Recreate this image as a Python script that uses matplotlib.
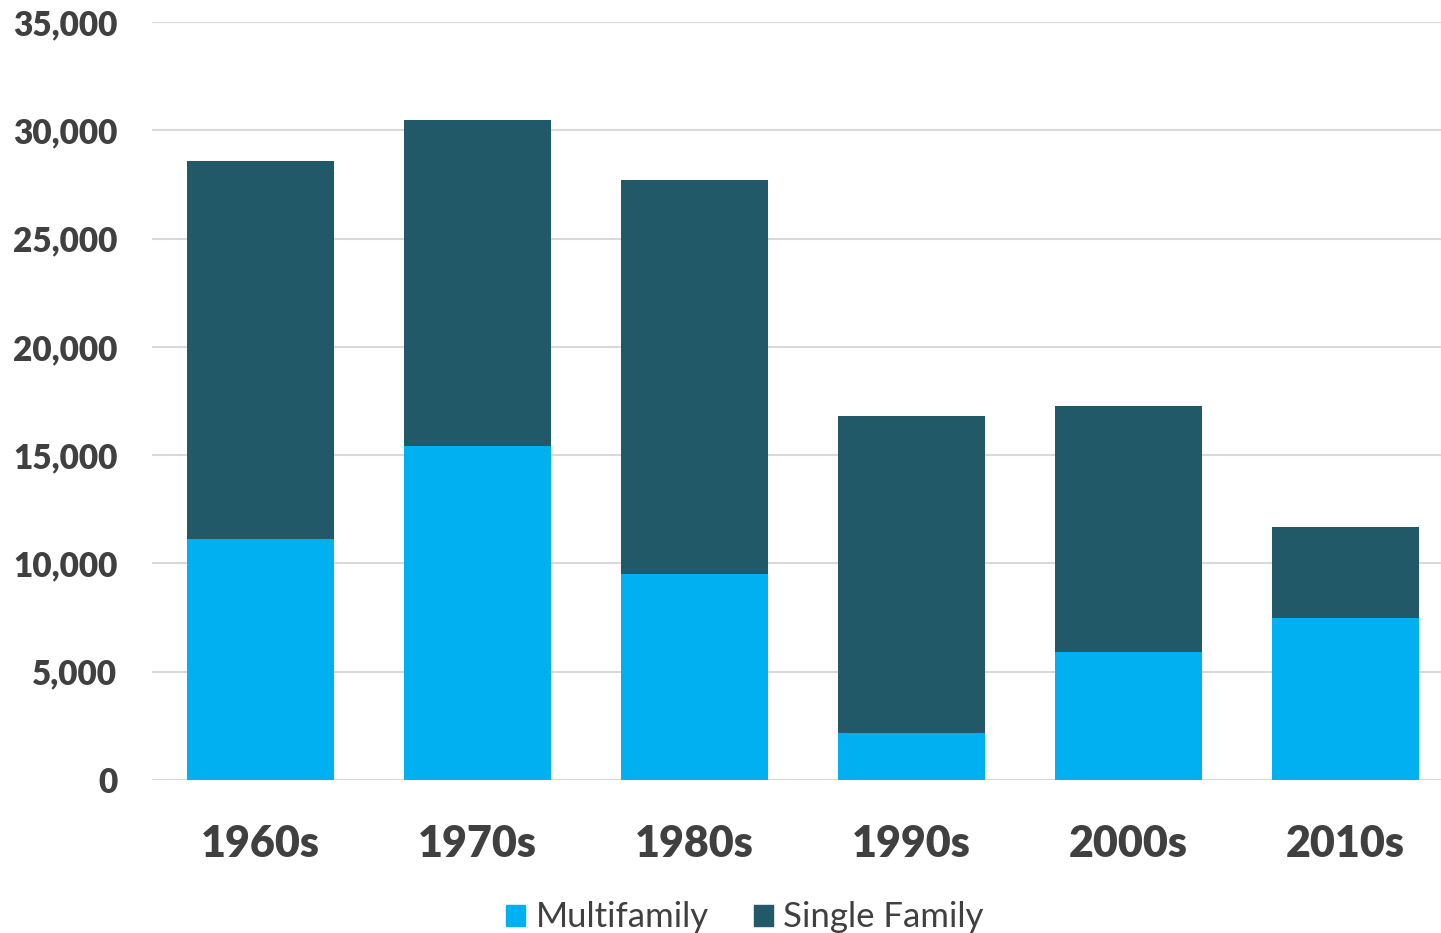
import matplotlib
matplotlib.use("Agg")
import matplotlib.pyplot as plt
from matplotlib.ticker import FuncFormatter
from matplotlib.patches import Patch

categories = ["1960s", "1970s", "1980s", "1990s", "2000s", "2010s"]
multifamily = [11150, 15420, 9510, 2170, 5910, 7480]
single_family = [17430, 15050, 18190, 14640, 11360, 4200]
yticks = [0, 5000, 10000, 15000, 20000, 25000, 30000, 35000]

plt.rcParams['font.family'] = ['Lato', 'DejaVu Sans']
txt = '#404040'
c_multi = '#00B0F0'
c_single = '#215968'

fig = plt.figure(figsize=(14.41, 9.33), dpi=100)
W, H = 1441, 933
ax = fig.add_axes([152 / W, (H - 780) / H, (1441 - 152) / W, (780 - 22) / H])

x = list(range(len(categories)))
ax.bar(x, multifamily, width=0.68, color=c_multi, zorder=3)
ax.bar(x, single_family, width=0.68, bottom=multifamily, color=c_single, zorder=3)

ax.set_ylim(0, 35000)
ax.set_xlim(-0.5, 5.44)
ax.set_yticks(yticks)
ax.yaxis.set_major_formatter(FuncFormatter(lambda v, p: f"{int(v):,}"))
ax.grid(axis='y', color='#D9D9D9', linewidth=1.5, zorder=0)
for s in ax.spines.values():
    s.set_visible(False)
ax.tick_params(axis='y', length=0, pad=25, labelsize=24, labelcolor=txt)
ax.tick_params(axis='x', length=0, pad=32, labelsize=31, labelcolor=txt)
ax.set_xticks(x)
ax.set_xticklabels(categories)
for lab in ax.get_yticklabels() + ax.get_xticklabels():
    lab.set_fontweight('heavy')

handles = [Patch(color=c_multi, label='Multifamily'), Patch(color=c_single, label='Single Family')]
fig.legend(handles=handles, loc='lower center', bbox_to_anchor=(745 / W, -0.034), ncol=2,
           frameon=False, fontsize=25, labelcolor=txt, handlelength=0.55, handleheight=0.55,
           handletextpad=0.3, columnspacing=1.3)

fig.savefig("out.png", dpi=100)
